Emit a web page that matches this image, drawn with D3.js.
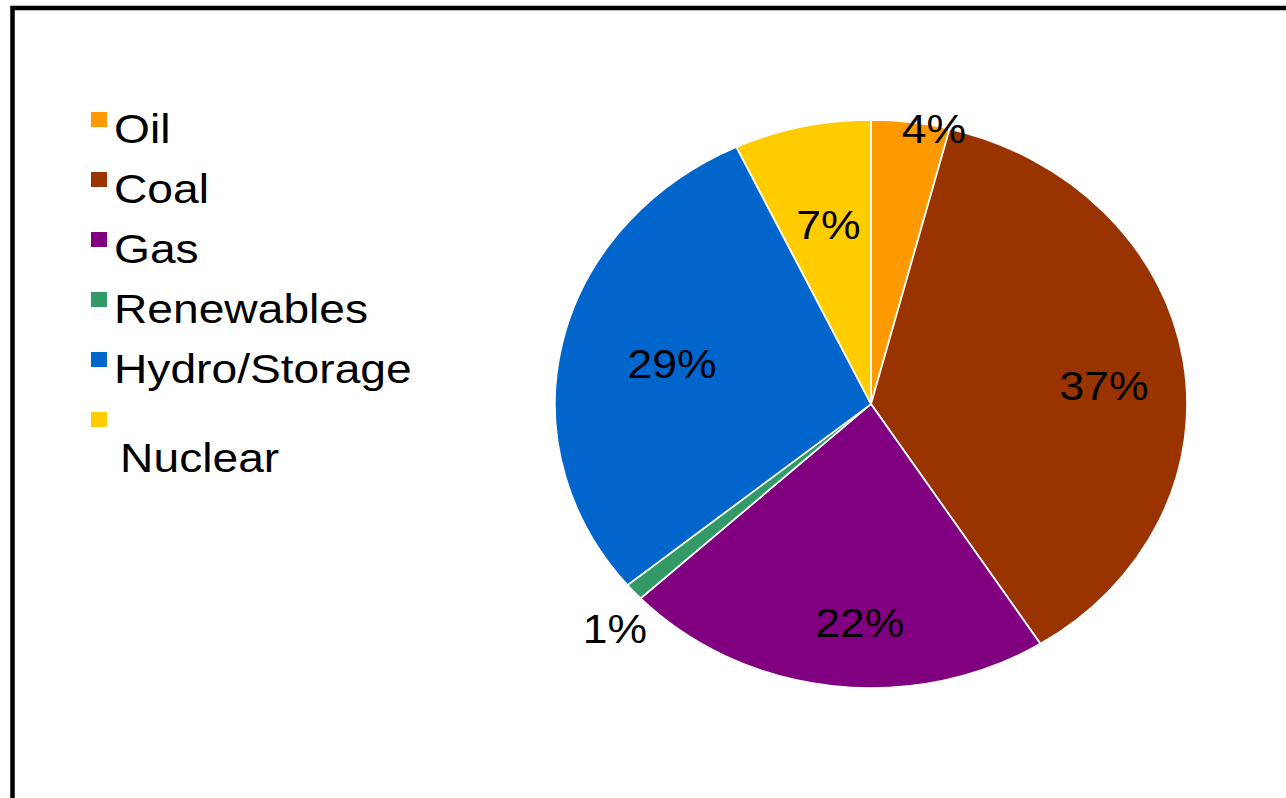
<!DOCTYPE html>
<html>
<head>
<meta charset="utf-8">
<script src="https://cdn.jsdelivr.net/npm/d3@7"></script>
<style>
  html, body { margin: 0; padding: 0; background: #fff; }
  svg { display: block; }
  text { font-family: "Liberation Sans", Arial, sans-serif; fill: #000; }
</style>
</head>
<body>
<svg id="chart" width="1286" height="798"></svg>
<script>
// Generation mix by source (percent of total)
const categories = ["Oil", "Coal", "Gas", "Renewables", "Hydro/Storage", "Nuclear"];
const shares = [4, 37, 22, 1, 29, 7];
const colors = ["#FF9900", "#993300", "#800080", "#339966", "#0066CC", "#FFCC00"];

const W = 1286, H = 798;
const stretchX = 1.113;           // chart is drawn slightly widened
const center = { x: 871, y: 404 };
const radius = 284;

// per-slice label placement: fraction of the radius and small angular nudge (radians)
const labelPlacement = [
  { r: 0.99, da: 0.077 },
  { r: 0.74, da: 0.07 },
  { r: 0.77, da: -0.08 },
  { r: 1.133, da: -0.052 },
  { r: 0.645, da: 0 },
  { r: 0.645, da: 0.01 }
];

const svg = d3.select("#chart");

// outer frame, running off the right and bottom edges
svg.append("rect")
  .attr("x", 12.5).attr("y", 8)
  .attr("width", W).attr("height", H)
  .attr("fill", "none")
  .attr("stroke", "#000")
  .attr("stroke-width", 4.5);

const data = categories.map((c, i) => ({ name: c, value: shares[i], color: colors[i], i }));

const pie = d3.pie().sort(null).value(d => d.value);
const arcs = pie(data);
const arc = d3.arc().innerRadius(0).outerRadius(radius);

const g = svg.append("g")
  .attr("transform", `translate(${center.x},${center.y}) scale(${stretchX},1)`);

g.selectAll("path.slice")
  .data(arcs)
  .join("path")
  .attr("class", "slice")
  .attr("d", arc)
  .attr("fill", d => d.data.color)
  .attr("stroke", "#fff")
  .attr("stroke-width", 1.6)
  .attr("stroke-linejoin", "round");

g.selectAll("text.pct")
  .data(arcs)
  .join("text")
  .attr("class", "pct")
  .attr("transform", d => {
    const p = labelPlacement[d.data.i];
    const a = (d.startAngle + d.endAngle) / 2 + p.da;
    const r = radius * p.r;
    return `translate(${r * Math.sin(a)},${-r * Math.cos(a)})`;
  })
  .attr("text-anchor", "middle")
  .attr("dy", "0.36em")
  .attr("font-size", 40)
  .text(d => d3.format(".0f")(d.data.value) + "%");

// legend
const legend = svg.append("g").attr("transform", `scale(${stretchX},1)`);
const legendX = 91 / stretchX;
const textX = 114 / stretchX;
const firstBaseline = 143;
const rowStep = 60;
const wrapped = new Set(["Nuclear"]);   // this entry's text sits on its own line below the key

const items = legend.selectAll("g.item")
  .data(data)
  .join("g")
  .attr("class", "item")
  .attr("transform", d => `translate(0,${firstBaseline + d.i * rowStep})`);

items.append("rect")
  .attr("x", legendX)
  .attr("y", -31)
  .attr("width", 16 / stretchX)
  .attr("height", 15)
  .attr("fill", d => d.color);

items.append("text")
  .attr("x", d => wrapped.has(d.name) ? textX + 5.5 : textX)
  .attr("y", d => wrapped.has(d.name) ? 29 : 0)
  .attr("font-size", 41.5)
  .text(d => d.name);
</script>
</body>
</html>
